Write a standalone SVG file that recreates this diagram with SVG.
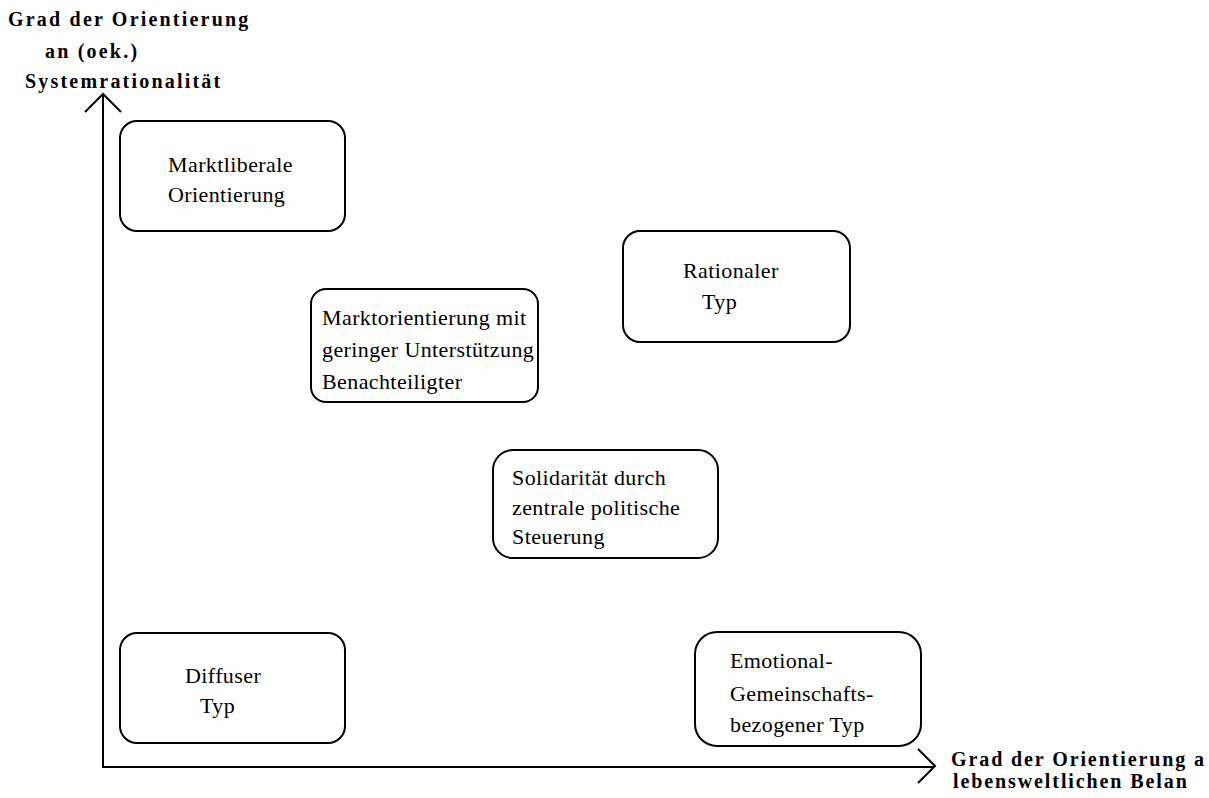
<svg xmlns="http://www.w3.org/2000/svg" width="1209" height="798" viewBox="0 0 1209 798">
<style>
.box{fill:#fff;stroke:#000;stroke-width:2}
.t{font-family:"Liberation Serif","Times New Roman",serif;font-size:22px;fill:#000;letter-spacing:0.4px}
.b{font-family:"Liberation Serif","Times New Roman",serif;font-size:20px;font-weight:bold;fill:#000;letter-spacing:2.2px}
.ax{fill:none;stroke:#000;stroke-width:2}
</style>
<rect width="1209" height="798" fill="#fff"/>
<g id="connectors">
<polyline class="ax" points="103,95 103,767 934,767"/>
<polyline class="ax" points="85,112 103,94 121,112"/>
<polyline class="ax" points="918,749 935,766 918,783"/>
</g>
<g id="label-y">
<text class="b" x="8" y="26">Grad der Orientierung</text>
<text class="b" x="45" y="58">an (oek.)</text>
<text class="b" x="25" y="88">Systemrationalität</text>
</g>
<g id="label-x">
<text class="b" x="951" y="766" style="letter-spacing:1.9px">Grad der Orientierung a</text>
<text class="b" x="953" y="788" style="letter-spacing:1.9px">lebensweltlichen Belan</text>
</g>
<g id="n1">
<rect class="box" x="120" y="121" width="225" height="110" rx="17"/>
<text class="t" x="168" y="172">Marktliberale</text>
<text class="t" x="168" y="202">Orientierung</text>
</g>
<g id="n2">
<rect class="box" x="623" y="231" width="227" height="111" rx="17"/>
<text class="t" x="683" y="278">Rationaler</text>
<text class="t" x="702" y="309">Typ</text>
</g>
<g id="n3">
<rect class="box" x="311" y="289" width="227" height="113" rx="15"/>
<text class="t" x="322" y="325">Marktorientierung mit</text>
<text class="t" x="322" y="357">geringer Unterstützung</text>
<text class="t" x="322" y="389">Benachteiligter</text>
</g>
<g id="n4">
<rect class="box" x="493" y="450" width="225" height="108" rx="20"/>
<text class="t" x="512" y="485">Solidarität durch</text>
<text class="t" x="512" y="515">zentrale politische</text>
<text class="t" x="512" y="544">Steuerung</text>
</g>
<g id="n5">
<rect class="box" x="120" y="633" width="225" height="110" rx="17"/>
<text class="t" x="185" y="683">Diffuser</text>
<text class="t" x="200" y="713">Typ</text>
</g>
<g id="n6">
<rect class="box" x="695" y="632" width="226" height="114" rx="22"/>
<text class="t" x="730" y="668">Emotional-</text>
<text class="t" x="730" y="701">Gemeinschafts-</text>
<text class="t" x="730" y="732">bezogener Typ</text>
</g>
</svg>
